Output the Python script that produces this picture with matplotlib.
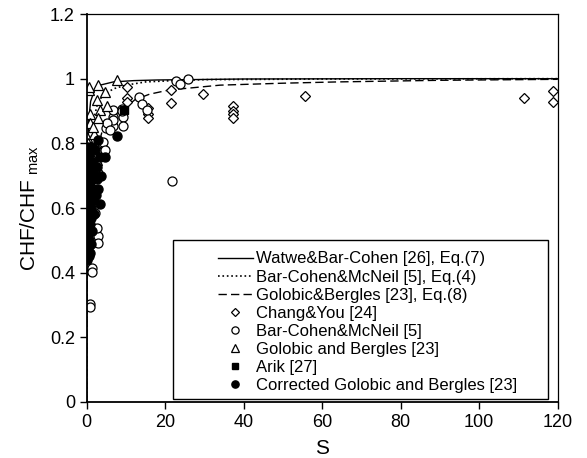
import numpy as np
import matplotlib
matplotlib.use("Agg")
import matplotlib.pyplot as plt
from matplotlib.patches import Rectangle

plt.rcParams['font.family'] = ['Liberation Sans', 'DejaVu Sans']

# correlation curves
watwe_s = [0, 0.01, 0.05, 0.1, 0.2, 0.5, 1, 2, 3.4, 6.8, 12, 18, 40, 80, 120]
watwe_y = [0, 0.3, 0.5, 0.62, 0.75, 0.87, 0.93, 0.965, 0.98, 0.99, 0.994, 0.996, 0.999, 1.0, 1.0]

bcm_s = [0, 0.02, 0.1, 0.3, 0.5, 1, 1.7, 2.6, 3.8, 5.5, 7.2, 10, 15, 22, 30, 60, 120]
bcm_y = [0, 0.2, 0.4, 0.6, 0.7, 0.8, 0.87, 0.915, 0.944, 0.96, 0.97, 0.98, 0.99, 0.994, 0.997, 0.999, 1.0]

gb_s = [0, 0.02, 0.1, 0.3, 0.5, 1, 2, 4, 7, 9.8, 12.3, 16, 21, 34, 50, 64, 90, 120]
gb_y = [0, 0.2, 0.35, 0.48, 0.55, 0.65, 0.75, 0.84, 0.885, 0.91, 0.935, 0.952, 0.965, 0.98, 0.986, 0.99, 0.995, 0.998]

# Chang&You [24]
chang_s = [10.2, 10.2, 10.2, 15.7, 15.7, 15.7, 21.4, 21.4, 29.6, 37.2, 37.2, 37.2, 37.2,
           55.6, 111.5, 118.7, 118.7, 0.5, 0.3]
chang_y = [0.973, 0.939, 0.928, 0.908, 0.892, 0.877, 0.964, 0.925, 0.952, 0.915, 0.90, 0.892, 0.877,
           0.947, 0.941, 0.961, 0.928, 0.66, 0.64]

# Bar-Cohen&McNeil [5]
bcm_pts_s = [25.9, 22.7, 23.8, 13.2, 14.0, 15.3, 9.1, 9.3, 6.8, 6.8, 9.3, 4.9, 21.8, 3.8, 3.8,
             3.0, 2.8, 2.8, 1.27, 1.27, 0.84, 0.84, 6.8, 8.9, 6.8, 5.1, 5.9, 4.2, 4.7, 2.1, 2.5,
             1.5, 2.0, 1.2]
bcm_pts_y = [1.0, 0.993, 0.983, 0.944, 0.923, 0.903, 0.905, 0.882, 0.882, 0.853, 0.853, 0.846, 0.683,
             0.80, 0.774, 0.707, 0.513, 0.492, 0.413, 0.403, 0.303, 0.293, 0.903, 0.90, 0.872, 0.862,
             0.841, 0.805, 0.779, 0.583, 0.537, 0.66, 0.70, 0.62]

# Golobic and Bergles [23]
gob_s = [7.6, 3.0, 0.67, 2.5, 4.7, 0.84, 3.4, 5.1, 0.84, 3.0, 0.0, 1.9, 0.84, 2.5, 0.67, 0.3, 1.5, 0.5]
gob_y = [0.995, 0.98, 0.964, 0.934, 0.959, 0.892, 0.903, 0.915, 0.862, 0.877, 0.82, 0.83, 0.769,
         0.748, 0.975, 0.80, 0.85, 0.71]

# Arik [27]
arik_s = [9.6]
arik_y = [0.903]

# Corrected Golobic and Bergles [23]
corr_s = [7.6, 0.4, 3.0, 3.4, 4.7, 2.5, 0.84, 1.7, 3.4, 0.2, 1.2, 2.0, 0.6, 1.5, 2.8, 0.3, 1.0,
          0.5, 1.8, 0.2, 0.9, 1.4, 0.1, 0.6, 1.1, 0.3, 0.8, 0.2, 0.5, 0.4, 0.1, 0.7, 0.3, 0.2,
          2.2, 1.3, 0.6, 0.9, 0.4, 0.1, 2.6, 0.5, 1.6, 0.2, 3.6, 2.4, 1.0, 0.3]
corr_y = [0.822, 0.79, 0.81, 0.758, 0.758, 0.727, 0.681, 0.624, 0.612, 0.76, 0.74, 0.70, 0.72, 0.66,
          0.66, 0.64, 0.60, 0.58, 0.58, 0.56, 0.55, 0.53, 0.52, 0.50, 0.49, 0.47, 0.46, 0.44, 0.45,
          0.54, 0.61, 0.64, 0.68, 0.70, 0.78, 0.79, 0.76, 0.72, 0.52, 0.48, 0.69, 0.62, 0.74, 0.66,
          0.70, 0.64, 0.57, 0.75]

fig = plt.figure(figsize=(5.87, 4.58), dpi=100)
ax = fig.add_axes([0.1477, 0.1223, 0.8024, 0.8471])

l1, = ax.plot(watwe_s, watwe_y, '-', color='black', lw=1.0)
l2, = ax.plot(bcm_s, bcm_y, ':', color='black', lw=1.2)
l3, = ax.plot(gb_s, gb_y, '--', color='black', lw=1.0, dashes=(6, 3))

ms = 6.5
m1, = ax.plot(chang_s, chang_y, 'D', ms=ms - 1, mfc='white', mec='black', mew=0.9, ls='none')
m2, = ax.plot(bcm_pts_s, bcm_pts_y, 'o', ms=ms, mfc='white', mec='black', mew=0.9, ls='none')
m3, = ax.plot(gob_s, gob_y, '^', ms=ms + 0.5, mfc='white', mec='black', mew=0.9, ls='none')
m4, = ax.plot(arik_s, arik_y, 's', ms=ms - 0.5, mfc='black', mec='black', ls='none')
m5, = ax.plot(corr_s, corr_y, 'o', ms=ms, mfc='black', mec='black', ls='none')

ax.set_xlim(0, 120)
ax.set_ylim(0, 1.2)
ax.set_xticks([0, 20, 40, 60, 80, 100, 120])
ax.set_yticks([0, 0.2, 0.4, 0.6, 0.8, 1.0, 1.2])
ax.set_yticklabels(['0', '0.2', '0.4', '0.6', '0.8', '1', '1.2'])
ax.tick_params(direction='out', length=5, width=1, labelsize=13, colors='black')
for sp in ['left', 'bottom']:
    ax.spines[sp].set_linewidth(1.3)
for sp in ['top', 'right']:
    ax.spines[sp].set_linewidth(0.9)

ax.set_xlabel('S', fontsize=15, labelpad=6)
ax.set_ylabel(r'CHF/CHF$_{\mathregular{\ max}}$', fontsize=15, labelpad=6)

ax.add_patch(Rectangle((0.1826, 0.0077), 0.7964, 0.4091, transform=ax.transAxes,
                       fill=False, edgecolor='black', lw=1.0, zorder=5))

labels = ['Watwe&Bar-Cohen [26], Eq.(7)', 'Bar-Cohen&McNeil [5], Eq.(4)',
          'Golobic&Bergles [23], Eq.(8)', 'Chang&You [24]', 'Bar-Cohen&McNeil [5]',
          'Golobic and Bergles [23]', 'Arik [27]', 'Corrected Golobic and Bergles [23]']
leg = ax.legend([l1, l2, l3, m1, m2, m3, m4, m5], labels, loc='upper left',
                bbox_to_anchor=(0.253, 0.418), frameon=False, fontsize=12,
                handlelength=2.1, handletextpad=0.2, labelspacing=0.185,
                borderpad=0.2, markerscale=0.8)

fig.savefig('out.png', dpi=100)
